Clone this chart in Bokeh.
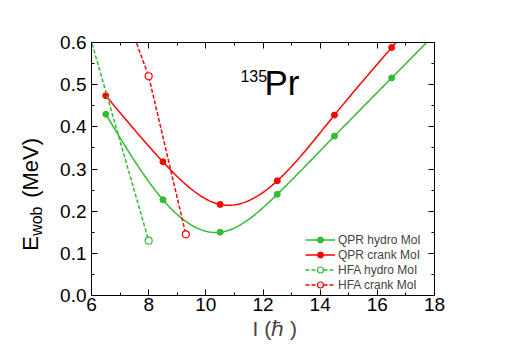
import numpy as np
from bokeh.plotting import figure
from bokeh.layouts import row
from bokeh.models import (Range1d, LinearAxis, FixedTicker, PrintfTickFormatter,
                          Label, Legend, LegendItem, Title)
from bokeh.core.properties import value
from bokeh.embed import file_html
from bokeh.resources import INLINE

# ---------------- data ----------------
qpr_I = [6.5, 8.5, 10.5, 12.5, 14.5, 16.5]
qpr_hydro = [0.430, 0.227, 0.150, 0.240, 0.378, 0.516]
qpr_crank = [0.474, 0.317, 0.216, 0.272, 0.428, 0.588]

hfa_hydro_I = [5.5, 8.0]
hfa_hydro = [0.720, 0.130]
hfa_crank_I = [7.0, 8.0, 9.3]
hfa_crank = [0.705, 0.520, 0.145]

x_ticks = [6, 8, 10, 12, 14, 16, 18]
y_ticks = [0.0, 0.1, 0.2, 0.3, 0.4, 0.5, 0.6]
x_minor = [(a + b) / 2 for a, b in zip(x_ticks[:-1], x_ticks[1:])]
y_minor = [(a + b) / 2 for a, b in zip(y_ticks[:-1], y_ticks[1:])]

GREEN = "#33bb33"
RED = "#ff0000"
FONT = "Liberation Sans"


def natural_spline(x, y, x_end, n=200):
    x = np.asarray(x, float); y = np.asarray(y, float)
    m = len(x); h = np.diff(x)
    A = np.zeros((m, m)); b = np.zeros(m)
    A[0, 0] = 1; A[-1, -1] = 1
    for i in range(1, m - 1):
        A[i, i - 1] = h[i - 1]; A[i, i] = 2 * (h[i - 1] + h[i]); A[i, i + 1] = h[i]
        b[i] = 6 * ((y[i + 1] - y[i]) / h[i] - (y[i] - y[i - 1]) / h[i - 1])
    M = np.linalg.solve(A, b)
    xs = np.linspace(x[0], x[-1], n)
    ys = np.empty_like(xs)
    for k, t in enumerate(xs):
        i = min(np.searchsorted(x, t, side="right") - 1, m - 2)
        hi = h[i]
        a = (x[i + 1] - t) / hi; bb = (t - x[i]) / hi
        ys[k] = (a * y[i] + bb * y[i + 1] +
                 ((a ** 3 - a) * M[i] + (bb ** 3 - bb) * M[i + 1]) * hi ** 2 / 6)
    slope = (y[-1] - y[-2]) / h[-1] + h[-1] * (M[-2] + 2 * M[-1]) / 6
    xs = np.append(xs, x_end)
    ys = np.append(ys, y[-1] + slope * (x_end - x[-1]))
    return xs, ys


LW = 56          # width of the y-label strip
FRAME_TOP = 42   # page position of the plot frame
FRAME_H = 253
PAGE_H = 354

p = figure(frame_width=343, frame_height=FRAME_H, min_border_left=91 - LW,
           min_border_right=66, min_border_top=FRAME_TOP, min_border_bottom=55,
           x_range=Range1d(x_ticks[0], x_ticks[-1]), y_range=Range1d(y_ticks[0], y_ticks[-1]),
           output_backend="svg", toolbar_location=None, background_fill_color="white",
           border_fill_color=None)
p.grid.visible = False
p.outline_line_color = "black"

p.add_layout(LinearAxis(), "above")
p.add_layout(LinearAxis(), "right")
for ax in p.above + p.below:
    ax.ticker = FixedTicker(ticks=x_ticks, minor_ticks=x_minor)
for ax in p.left + p.right:
    ax.ticker = FixedTicker(ticks=y_ticks, minor_ticks=y_minor)
    ax.formatter = PrintfTickFormatter(format="%.1f")
for ax in p.above + p.below + p.left + p.right:
    ax.major_tick_in = 6; ax.major_tick_out = 0
    ax.minor_tick_in = 3; ax.minor_tick_out = 0
    ax.axis_line_color = "black"; ax.major_tick_line_color = "black"
    ax.minor_tick_line_color = "black"
    ax.major_label_text_font = FONT
    ax.major_label_text_font_size = "19px"
    ax.major_label_text_color = "black"
for ax in p.above + p.right:
    ax.major_label_text_color = None
for ax in p.below:
    ax.major_label_standoff = 2
for ax in p.left:
    ax.major_label_standoff = 5

# x-axis title
p.add_layout(Title(text="I (\u210f )", align="left", offset=161, text_font=FONT,
                   text_font_size="21px", text_font_style="normal", standoff=3), "below")

# curves
xh, yh = natural_spline(qpr_I, qpr_hydro, x_ticks[-1])
xc, yc = natural_spline(qpr_I, qpr_crank, x_ticks[-1])
l1 = p.line(xh, yh, line_color=GREEN, line_width=1.5)
m1 = p.scatter(qpr_I, qpr_hydro, marker="circle", size=6, fill_color=GREEN, line_color=GREEN)
l2 = p.line(xc, yc, line_color=RED, line_width=1.5)
m2 = p.scatter(qpr_I, qpr_crank, marker="circle", size=6, fill_color=RED, line_color=RED)
l3 = p.line(hfa_hydro_I, hfa_hydro, line_color=GREEN, line_width=1.5, line_dash="4 2")
m3 = p.scatter(hfa_hydro_I, hfa_hydro, marker="circle", size=7, fill_color="white",
               line_color=GREEN, line_width=1.2)
l4 = p.line(hfa_crank_I, hfa_crank, line_color=RED, line_width=1.5, line_dash="4 2")
m4 = p.scatter(hfa_crank_I, hfa_crank, marker="circle", size=7, fill_color="white",
               line_color=RED, line_width=1.2)

legend = Legend(items=[
    LegendItem(label="QPR hydro MoI", renderers=[l1, m1]),
    LegendItem(label="QPR crank MoI", renderers=[l2, m2]),
    LegendItem(label="HFA hydro MoI", renderers=[l3, m3]),
    LegendItem(label="HFA crank MoI", renderers=[l4, m4]),
], location=(214, 3), orientation="vertical")
legend.padding = 0
legend.margin = 0
legend.spacing = 0
legend.glyph_width = 30
legend.glyph_height = 15
legend.label_height = 15
legend.label_standoff = 3
legend.label_text_font = FONT
legend.label_text_font_size = "12px"
legend.background_fill_alpha = 0
legend.border_line_alpha = 0
p.add_layout(legend, "center")

# nucleus label
p.add_layout(Label(x=11.21, y=0.5075, text="135", text_font=FONT, text_font_size="16px",
                   text_color="black"))
p.add_layout(Label(x=12.05, y=0.460, text="Pr", text_font=FONT, text_font_size="35px",
                   text_color="black"))

# y-axis label strip (rotated text built from pieces, with a subscript).
# Its frame is aligned with the main frame; data y = PAGE_H - page y.
yl = figure(width=LW, height=PAGE_H, x_range=Range1d(0, LW),
            y_range=Range1d(PAGE_H - FRAME_TOP - FRAME_H, PAGE_H - FRAME_TOP),
            min_border=0, x_axis_location=None, y_axis_location=None,
            output_backend="svg", toolbar_location=None, outline_line_color=None,
            background_fill_color="white", border_fill_color="white")
yl.grid.visible = False
ang = np.pi / 2
start = PAGE_H - 247     # page y where the label begins (bottom)
big, small = 22, 16
e_len = 0.667 * big
sub_len = 1.834 * small
gap = 0.278 * big + 2
yl.text(x=[30.3], y=[start], text=["E"], angle=ang, text_font=value(FONT),
        text_font_size=f"{big}px", text_baseline="middle", text_align="left",
        text_color="black")
yl.text(x=[36.4], y=[start + e_len], text=["wob"], angle=ang, text_font=value(FONT),
        text_font_size=f"{small}px", text_baseline="middle", text_align="left",
        text_color="black")
yl.text(x=[30.3], y=[start + e_len + sub_len + gap], text=["(MeV)"], angle=ang,
        text_font=value(FONT), text_font_size=f"{big}px", text_baseline="middle",
        text_align="left", text_color="black")

layout = row(yl, p)
open("out.html", "w").write(file_html(layout, INLINE))
